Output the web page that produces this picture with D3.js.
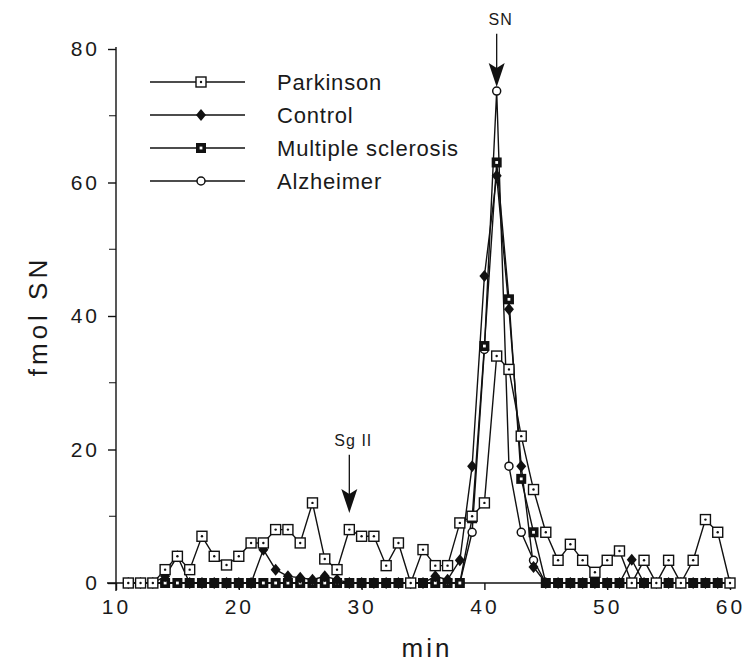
<!DOCTYPE html>
<html>
<head>
<meta charset="utf-8">
<script src="https://d3js.org/d3.v7.min.js"></script>
<style>
  body { margin: 0; background: #fff; }
  text { font-family: "Liberation Sans", Arial, Helvetica, sans-serif; fill: #1a1a1a; }
</style>
</head>
<body>
<svg id="vis"></svg>
<script>
// elution time (min) of each fraction
const minutes = [11, 12, 13, 14, 15, 16, 17, 18, 19, 20,
                 21, 22, 23, 24, 25, 26, 27, 28, 29, 30,
                 31, 32, 33, 34, 35, 36, 37, 38, 39, 40,
                 41, 42, 43, 44, 45, 46, 47, 48, 49, 50,
                 51, 52, 53, 54, 55, 56, 57, 58, 59, 60];

// fmol SN per fraction
const parkinson = [0, 0, 0, 2, 4, 2, 7, 4, 2.7, 4,
                   6, 6, 8, 8, 6, 12, 3.6, 2, 8, 7,
                   7, 2.6, 6, 0, 5, 2.6, 2.6, 9, 10, 12,
                   34, 32, 22, 14, 7.6, 3.4, 5.8, 3.4, 1.6, 3.4,
                   4.8, 0, 3.4, 0, 3.4, 0, 3.4, 9.5, 7.6, 0];
const control = [0, 0, 0, 1, 4, 0, 0, 0, 0, 0,
                 0, 5, 2, 1, 0.8, 0.5, 1, 0.5, 0, 0,
                 0, 0, 0, 0, 0, 1, 0.5, 3.4, 17.5, 46,
                 61, 41, 17.5, 2.4, 0, 0, 0, 0, 0, 0,
                 0, 3.5, 0, 0, 0, 0, 0, 0, 0, 0];
const sclerosis = [0, 0, 0, 0, 0, 0, 0, 0, 0, 0,
                   0, 0, 0, 0, 0, 0, 0, 0, 0, 0,
                   0, 0, 0, 0, 0, 0, 0, 0, 9.7, 35.5,
                   63, 42.5, 15.6, 7.6, 0, 0, 0, 0, 0, 0,
                   0, 0, 0, 0, 0, 0, 0, 0, 0, 0];
const alzheimer = [0, 0, 0, 0, 0, 0, 0, 0, 0, 0,
                   0, 0, 0, 0, 0, 0, 0, 0, 0, 0,
                   0, 0, 0, 0, 0, 0, 0, 0, 7.6, 35,
                   73.7, 17.5, 7.6, 3.4, 0, 0, 0, 0, 0, 0,
                   0, 0, 0, 0, 0, 0, 0, 0, 0, 0];

const seriesNames = ['Parkinson', 'Control', 'Multiple sclerosis', 'Alzheimer'];
const seriesKinds = ['openSquare', 'diamond', 'boldSquare', 'circle'];

const xTicks = [10, 20, 30, 40, 50, 60];
const yTicks = [0, 20, 40, 60, 80];
const yMinorTicks = [10, 30, 50, 70];

// arrows marking the standards: position (min), arrow tip and tail (fmol)
const markLabels = ['Sg II', 'SN'];
const markMinutes = [29, 41];
const markTips = [10.5, 74.3];
const markTails = [19.2, 82.3];

const width = 747, height = 667;
const svg = d3.select('#vis').attr('width', width).attr('height', height);

const x = d3.scaleLinear().domain([10, 60]).range([116, 730]);
const y = d3.scaleLinear().domain([0, 80]).range([583, 49]);

// axes
const xAxis = d3.axisBottom(x).tickValues(xTicks).tickSize(7).tickSizeOuter(0).tickPadding(9);
const gx = svg.append('g').attr('transform', `translate(0,${y(0)})`).call(xAxis);
gx.select('.domain').attr('d', `M${x(10) - 9},0H${x(60) + 4}`);

const yAxis = d3.axisLeft(y).tickValues(yTicks).tickSize(8).tickSizeOuter(0).tickPadding(8);
const gy = svg.append('g').attr('transform', `translate(${x(10)},0)`).call(yAxis);
gy.select('.domain').attr('d', `M0,${y(0) + 8}V${y(80) - 2}`);

svg.append('g').attr('transform', `translate(${x(10)},0)`)
  .selectAll('line').data(yMinorTicks).join('line')
  .attr('x1', -7).attr('x2', 0)
  .attr('y1', d => y(d)).attr('y2', d => y(d))
  .attr('stroke', '#111');

svg.selectAll('.domain, .tick line').attr('stroke', '#111').attr('stroke-width', 1.4);
svg.selectAll('.tick text')
  .style('font-size', '21px')
  .style('letter-spacing', '3px')
  .attr('fill', '#1a1a1a');

// axis titles
svg.append('text')
  .attr('x', (x(10) + x(60)) / 2 + 4).attr('y', 657)
  .attr('text-anchor', 'middle')
  .style('font-size', '26px').style('letter-spacing', '3px')
  .text('min');
svg.append('text')
  .attr('transform', `translate(47,${y(40)}) rotate(-90)`)
  .attr('text-anchor', 'middle')
  .style('font-size', '26px').style('letter-spacing', '4px')
  .text('fmol SN');

// markers
function drawMarker(g, kind) {
  if (kind === 'openSquare') {
    g.append('rect').attr('x', -5).attr('y', -5).attr('width', 10).attr('height', 10)
      .attr('fill', '#fff').attr('stroke', '#111').attr('stroke-width', 1.4);
    g.append('circle').attr('r', 1.2).attr('fill', '#111');
  } else if (kind === 'diamond') {
    g.append('path').attr('d', 'M0,-6L5,0L0,6L-5,0Z').attr('fill', '#111');
  } else if (kind === 'boldSquare') {
    g.append('rect').attr('x', -5).attr('y', -5).attr('width', 10).attr('height', 10)
      .attr('fill', '#111');
    g.append('rect').attr('x', -1.4).attr('y', -1.4).attr('width', 2.8).attr('height', 2.8)
      .attr('fill', '#fff');
  } else {
    g.append('circle').attr('r', 4).attr('fill', '#fff')
      .attr('stroke', '#111').attr('stroke-width', 1.5);
  }
}

const allSeries = [parkinson, control, sclerosis, alzheimer].map((vals, i) => ({
  name: seriesNames[i],
  kind: seriesKinds[i],
  points: minutes.map((m, j) => ({m: m, v: vals[j]}))
}));

// draw order: Alzheimer first, Parkinson last
const drawOrder = allSeries.slice().reverse();

const line = d3.line().x(d => x(d.m)).y(d => y(d.v));

svg.append('g').selectAll('path').data(drawOrder).join('path')
  .attr('d', d => line(d.points))
  .attr('fill', 'none')
  .attr('stroke', '#111')
  .attr('stroke-width', 1.4);

drawOrder.forEach(s => {
  const g = svg.append('g');
  s.points.forEach(p => {
    const mg = g.append('g').attr('transform', `translate(${x(p.m)},${y(p.v)})`);
    drawMarker(mg, s.kind);
  });
});

// arrows for the standards
markLabels.forEach((label, i) => {
  const ax = x(markMinutes[i]);
  const tip = y(markTips[i]);
  const tail = y(markTails[i]);
  svg.append('line')
    .attr('x1', ax).attr('x2', ax).attr('y1', tail).attr('y2', tip - 12)
    .attr('stroke', '#111').attr('stroke-width', 1.3);
  svg.append('path')
    .attr('d', `M${ax},${tip}L${ax - 8},${tip - 24}L${ax},${tip - 19}L${ax + 8},${tip - 24}Z`)
    .attr('fill', '#111');
  svg.append('text')
    .attr('x', ax + 4).attr('y', tail - 9)
    .attr('text-anchor', 'middle')
    .style('font-size', '16px').style('letter-spacing', '1px')
    .text(label);
});

// legend
const legendRows = [82, 115, 148, 181];
const legend = svg.append('g');
allSeries.forEach((s, i) => {
  const row = legend.append('g').attr('transform', `translate(0,${legendRows[i]})`);
  row.append('line').attr('x1', 150).attr('x2', 245).attr('y1', 0).attr('y2', 0)
    .attr('stroke', '#111').attr('stroke-width', 1.4);
  drawMarker(row.append('g').attr('transform', 'translate(201,0)'), s.kind);
  row.append('text').attr('x', 277).attr('y', 0).attr('dy', '0.35em')
    .style('font-size', '22px').style('letter-spacing', '0.8px')
    .text(s.name);
});
</script>
</body>
</html>
